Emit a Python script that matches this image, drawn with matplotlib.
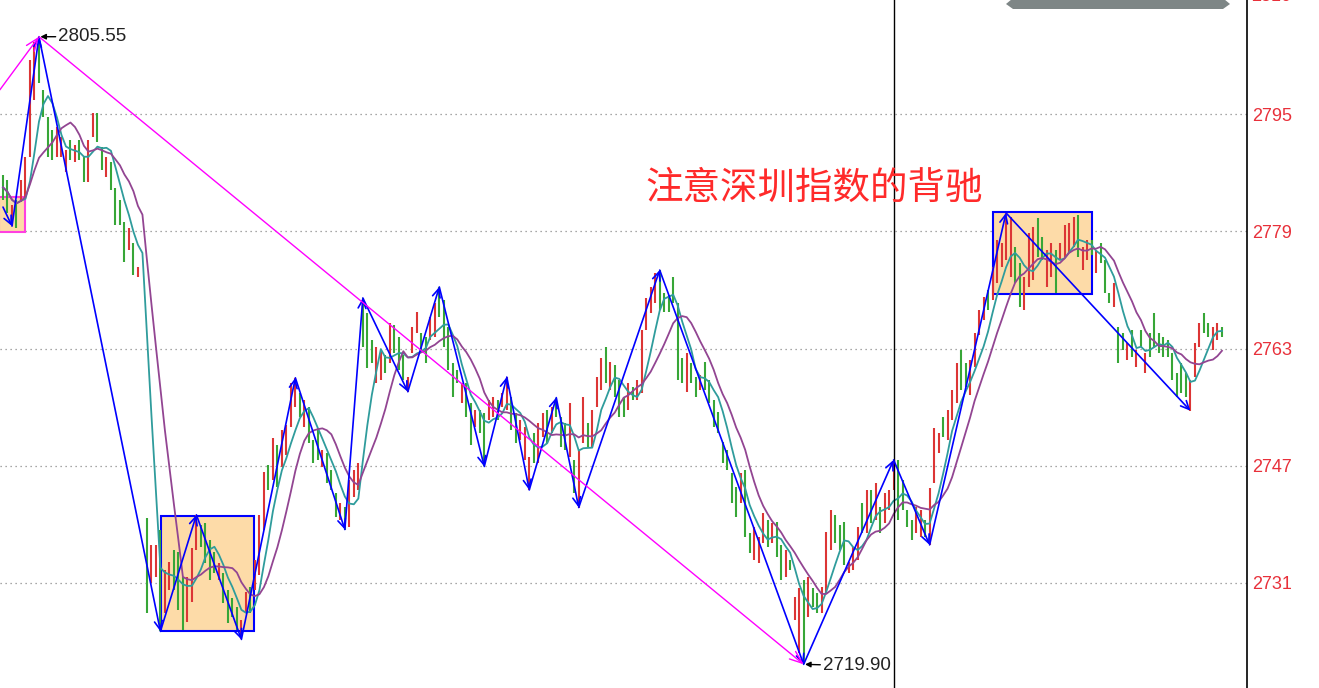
import numpy as np
import pandas as pd
import matplotlib
matplotlib.use("Agg")
import matplotlib.pyplot as plt
from matplotlib.patches import Rectangle, Polygon

plt.rcParams['font.family'] = ['Liberation Sans', 'Noto Sans CJK SC', 'DejaVu Sans']

nan = float('nan')

# ---- bar data (low / high / up-flag) ----
bar_lo = [
    2783.3, 2781.5, 2779.7, 2779.4, 2783.0, 2783.7, 2789.1, 2796.9, 2799.2, 2794.6,
    2789.1, 2788.7, 2789.1, 2789.1, 2787.1, 2788.7, 2788.5, 2788.7, 2785.7, 2785.7,
    2791.9, 2791.2, 2787.4, 2786.4, 2784.6, 2779.9, 2779.9, 2774.8, 2776.4, 2773.0,
    2772.8, nan, 2726.9, 2731.0, 2731.8, 2724.4, 2726.9, 2730.1, 2730.1, 2727.3,
    2724.6, 2725.7, 2728.4, 2735.5, 2735.9, 2733.7, 2731.4, 2732.4, 2731.4, 2728.3,
    2725.6, 2726.4, 2724.6, 2723.3, 2726.9, 2726.9, 2730.1, 2732.1, 2738.2, 2743.7,
    2745.1, 2744.1, 2746.8, 2748.5, 2752.3, 2755.0, 2753.7, 2752.3, 2750.1, 2747.4,
    2747.8, 2746.8, 2744.7, 2743.7, 2740.0, 2739.6, 2738.3, 2738.7, 2742.7, 2743.7,
    2763.2, 2760.3, 2761.0, 2758.3, 2758.7, 2759.7, 2761.0, 2762.4, 2760.1, 2758.7,
    2757.1, 2762.4, 2765.1, 2762.4, 2761.0, 2764.2, 2764.6, 2767.3, 2763.2, 2760.1,
    2756.4, 2758.3, 2755.6, 2753.7, 2749.8, 2752.3, 2751.5, 2746.9, 2753.3, 2753.7,
    2753.3, 2755.0, 2754.6, 2751.9, 2750.1, 2750.5, 2747.8, 2743.7, 2747.4, 2747.4,
    2750.9, 2750.1, 2751.5, 2753.7, 2749.6, 2749.2, 2748.2, 2743.3, 2741.3, 2750.1,
    2749.6, 2749.6, 2755.0, 2757.3, 2758.3, 2757.3, 2756.4, 2753.7, 2753.7, 2754.6,
    2756.0, 2756.0, 2756.9, 2765.5, 2767.9, 2769.2, 2768.3, 2768.0, 2768.0, 2769.2,
    2758.7, 2758.3, 2757.1, 2758.3, 2756.4, 2757.3, 2757.3, 2755.6, 2752.3, 2751.5,
    2747.4, 2746.4, 2741.9, 2740.0, 2741.9, 2737.3, 2735.1, 2734.1, 2733.7, 2736.5,
    2735.9, 2736.5, 2734.6, 2731.4, 2731.8, 2732.8, 2726.0, 2721.5, 2719.9, 2726.4,
    2727.7, 2726.9, 2726.9, 2729.6, 2735.5, 2736.5, 2735.5, 2733.5, 2732.4, 2732.8,
    2734.1, 2737.8, 2737.8, 2739.2, 2739.6, 2737.8, 2739.2, 2741.0, 2743.7, 2739.6,
    2741.0, 2738.7, 2736.9, 2737.8, 2737.3, 2737.3, 2736.2, 2744.7, 2748.7, 2750.9,
    2750.5, 2753.3, 2755.6, 2757.3, 2757.8, 2756.7, 2760.5, 2764.9, 2766.9, 2768.3,
    2769.6, 2771.9, 2774.1, 2775.1, 2772.8, 2771.9, 2768.7, 2768.3, 2771.4, 2772.4,
    2775.5, 2775.1, 2771.4, 2772.8, 2770.6, 2775.1, 2775.5, 2776.0, 2776.9, 2775.5,
    2773.7, 2775.1, 2775.8, 2773.3, 2774.7, 2770.6, 2769.2, 2768.7, 2761.0, 2762.8,
    2761.4, 2761.8, 2760.5, 2763.2, 2759.7, 2761.8, 2763.2, 2762.4, 2761.8, 2761.8,
    2758.7, 2756.4, 2756.9, 2756.4, 2754.5, 2759.1, 2763.2, 2765.1, 2764.6, 2762.8,
    2764.2, 2764.6,
]
bar_hi = [
    2786.7, 2786.0, 2782.6, 2783.3, 2786.0, 2789.1, 2802.4, 2804.8, 2805.55, 2798.3,
    2794.6, 2792.8, 2793.2, 2791.9, 2790.1, 2791.5, 2790.8, 2791.5, 2789.1, 2791.5,
    2795.1, 2795.1, 2790.5, 2789.1, 2788.5, 2784.9, 2783.3, 2780.3, 2779.5, 2777.4,
    2774.1, nan, 2739.9, 2736.2, 2736.2, 2738.2, 2732.8, 2733.9, 2735.5, 2735.2,
    2731.8, 2731.8, 2735.8, 2740.3, 2738.9, 2739.2, 2736.9, 2735.2, 2733.7, 2732.4,
    2730.1, 2729.0, 2727.7, 2726.0, 2729.8, 2730.5, 2734.1, 2740.3, 2746.2, 2747.1,
    2750.8, 2749.8, 2751.9, 2752.6, 2758.3, 2759.0, 2756.9, 2756.0, 2755.0, 2750.5,
    2751.9, 2749.2, 2748.7, 2746.4, 2743.3, 2741.9, 2741.4, 2745.1, 2746.4, 2747.4,
    2769.9, 2767.9, 2764.2, 2763.2, 2762.5, 2762.1, 2766.5, 2766.2, 2764.6, 2762.1,
    2759.1, 2765.9, 2768.0, 2765.1, 2764.6, 2767.3, 2769.2, 2771.4, 2769.6, 2765.9,
    2761.0, 2760.1, 2758.3, 2758.3, 2755.6, 2754.6, 2754.6, 2754.2, 2756.0, 2756.4,
    2756.0, 2756.9, 2759.1, 2756.4, 2754.2, 2753.3, 2752.3, 2748.2, 2751.5, 2752.8,
    2754.2, 2754.6, 2755.0, 2756.3, 2753.7, 2752.8, 2755.6, 2747.8, 2749.2, 2756.4,
    2752.8, 2754.6, 2759.1, 2761.7, 2763.2, 2761.2, 2760.8, 2758.7, 2756.4, 2758.3,
    2757.8, 2758.7, 2765.5, 2769.9, 2771.4, 2773.3, 2773.7, 2770.6, 2770.3, 2772.8,
    2769.2, 2761.7, 2762.4, 2761.0, 2759.1, 2759.4, 2761.2, 2758.7, 2756.0, 2754.3,
    2750.2, 2749.2, 2746.0, 2744.1, 2746.0, 2746.4, 2737.8, 2738.7, 2737.3, 2740.6,
    2739.6, 2739.2, 2739.3, 2736.2, 2735.5, 2734.1, 2729.1, 2730.3, 2731.4, 2731.8,
    2730.3, 2729.6, 2730.5, 2738.0, 2741.0, 2740.3, 2738.9, 2739.3, 2733.9, 2735.9,
    2738.7, 2741.9, 2743.7, 2743.7, 2744.7, 2741.4, 2743.3, 2743.7, 2747.8, 2747.8,
    2745.1, 2741.0, 2739.6, 2741.4, 2741.0, 2739.6, 2744.0, 2752.2, 2751.5, 2753.7,
    2754.6, 2757.3, 2761.0, 2762.8, 2761.0, 2761.4, 2765.1, 2768.3, 2770.0, 2771.0,
    2774.1, 2777.8, 2777.4, 2781.5, 2781.0, 2776.9, 2774.7, 2772.8, 2778.8, 2779.6,
    2780.8, 2778.2, 2776.4, 2777.4, 2776.4, 2777.4, 2779.9, 2780.1, 2781.0, 2781.2,
    2776.9, 2777.8, 2777.8, 2776.4, 2777.4, 2775.1, 2770.6, 2771.9, 2765.9, 2765.1,
    2763.8, 2765.5, 2762.8, 2765.5, 2762.4, 2765.1, 2767.9, 2765.1, 2764.6, 2764.2,
    2762.4, 2759.7, 2761.0, 2759.7, 2758.7, 2763.8, 2766.5, 2767.9, 2766.5, 2765.9,
    2766.5, 2765.9,
]
bar_up = [
    0, 0, 1, 0, 1, 1, 1, 1, 0, 0,
    0, 0, 1, 1, 1, 0, 1, 0, 0, 1,
    1, 0, 0, 1, 0, 0, 0, 0, 1, 0,
    1, 0, 0, 1, 1, 0, 1, 1, 0, 0,
    0, 1, 1, 1, 0, 0, 0, 0, 1, 0,
    0, 0, 0, 1, 1, 0, 1, 1, 1, 0,
    1, 0, 1, 1, 1, 1, 0, 1, 0, 0,
    0, 1, 0, 0, 0, 1, 0, 1, 1, 1,
    0, 0, 0, 1, 1, 0, 1, 0, 0, 0,
    1, 1, 1, 0, 0, 1, 1, 0, 0, 0,
    0, 0, 1, 0, 0, 1, 0, 0, 1, 1,
    0, 1, 1, 0, 0, 1, 1, 1, 0, 1,
    1, 0, 1, 0, 0, 0, 1, 0, 1, 1,
    0, 1, 1, 1, 0, 1, 0, 0, 0, 1,
    0, 1, 1, 1, 1, 1, 0, 0, 0, 0,
    0, 0, 1, 0, 0, 1, 0, 0, 0, 0,
    0, 0, 0, 0, 1, 0, 0, 1, 1, 1,
    0, 1, 0, 0, 1, 0, 1, 1, 0, 1,
    0, 0, 1, 1, 1, 0, 0, 0, 1, 1,
    1, 0, 1, 0, 1, 0, 1, 1, 1, 0,
    0, 0, 0, 1, 1, 0, 1, 1, 1, 0,
    1, 1, 1, 0, 0, 1, 1, 1, 1, 0,
    1, 1, 1, 1, 1, 0, 0, 1, 1, 1,
    0, 0, 1, 1, 0, 1, 1, 1, 1, 0,
    1, 1, 0, 1, 0, 0, 0, 1, 0, 0,
    1, 0, 1, 0, 1, 0, 0, 0, 0, 0,
    0, 0, 0, 0, 1, 1, 1, 0, 0, 1,
    1, 0,
]

# zigzag (bi) pivots: bar index and price
zz_idx = [0, 2, 8, 35, 43, 53, 65, 76, 80, 90, 97, 107, 112, 117, 123, 128, 146, 178, 198, 206, 223, 264]
zz_val = [2782.3, 2779.7, 2805.55, 2724.4, 2740.3, 2723.3, 2759.0, 2738.3, 2769.9, 2757.1, 2771.4,
          2746.9, 2759.1, 2743.7, 2756.3, 2741.3, 2773.7, 2719.9, 2747.8, 2736.2, 2781.5, 2754.5]

# magenta segment line
seg_idx = [-0.7, 8, 178]
seg_val = [2798.3, 2805.55, 2719.9]

# boxes (zhongshu): x start, x end, low, high, edge colour
box_x0 = [-1.0, 35.1, 220.1]
box_x1 = [4.9, 55.8, 242.1]
box_lo = [2778.9, 2724.4, 2770.4]
box_hi = [2783.7, 2740.1, 2781.6]
box_edge = ['#FF40E0', '#0000FF', '#0000FF']

ytick_vals = [2731, 2747, 2763, 2779, 2795]
top_label = '2810'
top_label_val = 2811
cursor_idx = 198

peak_label = ('2805.55', 8, 2805.55)
low_label = ('2719.90', 178, 2719.9)
title_text = '注意深圳指数的背驰'

# ---- figure ----
W, H = 1319, 688
fig = plt.figure(figsize=(W / 100, H / 100), dpi=100)
ax = fig.add_axes([0, 0, 1247 / W, 1])

lo = np.array(bar_lo, dtype=float)
hi = np.array(bar_hi, dtype=float)
up = np.array(bar_up, dtype=bool)
x = np.arange(len(lo))

ax.set_xlim(-0.667, 276.57)
ax.set_ylim(2716.67, 2810.56)

for v in ytick_vals:
    ax.axhline(v, color='#8a8a8a', lw=0.9, linestyle=(0, (1, 3)), zorder=1)

for x0, x1, l, h, ec in zip(box_x0, box_x1, box_lo, box_hi, box_edge):
    ax.add_patch(Rectangle((x0, l), x1 - x0, h - l, facecolor='#FDDBA8',
                           edgecolor=ec, lw=1.5, zorder=1.5))

ax.vlines(x[up], lo[up], hi[up], colors='#DC3535', lw=1.5, zorder=2)
ax.vlines(x[~up], lo[~up], hi[~up], colors='#37A637', lw=1.5, zorder=2)

mid = pd.Series((lo + hi) / 2)
ma_fast = mid.rolling(5, min_periods=1).mean()
ma_slow = mid.rolling(10, min_periods=1).mean()
ax.plot(x, ma_fast, color='#2F9C9C', lw=1.3, zorder=3)
ax.plot(x, ma_slow, color='#924592', lw=1.3, zorder=3)

ax.axvline(cursor_idx, color='black', lw=1, zorder=3)

for k in range(1, len(zz_idx)):
    ax.annotate('', xy=(zz_idx[k], zz_val[k]), xytext=(zz_idx[k - 1], zz_val[k - 1]),
                arrowprops=dict(arrowstyle='->,head_length=0.6,head_width=0.28',
                                color='#0000FF', lw=1.2, shrinkA=0, shrinkB=0), zorder=4)
for k in range(1, len(seg_idx)):
    ax.annotate('', xy=(seg_idx[k], seg_val[k]), xytext=(seg_idx[k - 1], seg_val[k - 1]),
                arrowprops=dict(arrowstyle='->,head_length=0.9,head_width=0.35',
                                color='#FF00FF', lw=1.0, shrinkA=0, shrinkB=0), zorder=4)

for txt, xi, yv in (peak_label, low_label):
    ax.annotate(txt, xy=(xi, yv), xytext=(14, -1 if yv < 2750 else 0), textcoords='offset points',
                ha='left', va='center', fontsize=13.5, color='#222222',
                arrowprops=dict(arrowstyle='-|>', color='black', lw=1.0,
                                shrinkA=0, shrinkB=1, mutation_scale=8), zorder=5)

for s in ['left', 'top', 'bottom']:
    ax.spines[s].set_visible(False)
ax.spines['right'].set_color('black')
ax.spines['right'].set_linewidth(1.2)
ax.set_xticks([])
ax.yaxis.tick_right()
ax.set_yticks(ytick_vals)
ax.set_yticklabels([str(v) for v in ytick_vals])
ax.tick_params(axis='y', length=0, pad=4, labelcolor='#E8303A', labelsize=13)
ax.text(1.0 + 4 / 1247, top_label_val, top_label, transform=ax.get_yaxis_transform(),
        ha='left', va='center', fontsize=13, color='#E8303A', clip_on=False)

fig.text(645 / W, 1 - 188 / H, title_text, fontsize=27, color='#FF2A2A',
         family=['Noto Sans CJK SC', 'DejaVu Sans'], va='center', ha='left')

# grey scroll element at the top right
pts = [(1006, 4), (1013, 9), (1223, 9), (1230, 4), (1224, -1), (1012, -1)]
fig.add_artist(Polygon([(px / W, 1 - py / H) for px, py in pts], closed=True,
                       transform=fig.transFigure, facecolor='#7E8686', edgecolor='none'))

fig.savefig('out.png', dpi=100, facecolor='white')
